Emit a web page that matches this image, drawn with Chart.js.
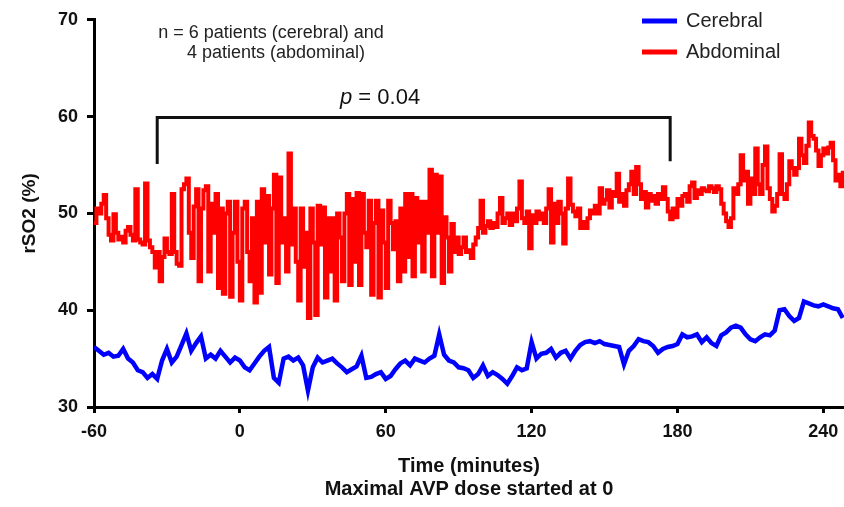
<!DOCTYPE html>
<html>
<head>
<meta charset="utf-8">
<script src="https://cdn.jsdelivr.net/npm/chart.js@4.4.0/dist/chart.umd.min.js"></script>
<style>
  html, body { margin: 0; padding: 0; background: #fff; }
  #wrap { width: 844px; height: 507px; }
</style>
</head>
<body>
<div id="wrap"><canvas id="rso2Chart" width="844" height="507"></canvas></div>
<script>
// both series start at -60 min; cerebral sampled every 2 min, abdominal every minute
const startMin = -60;
const cerebralStep = 2;
const abdominalStep = 1;

const cerebral = [
  36.2, 35.8, 35.4, 35.6, 35.2, 35.3, 36.0, 35.0, 34.6, 33.8,
  33.6, 33.0, 33.4, 32.9, 34.8, 36.0, 34.6, 35.2, 36.4, 37.6,
  35.8, 36.6, 37.3, 35.0, 35.4, 35.0, 35.8, 35.2, 34.6, 35.1,
  34.8, 34.1, 33.8, 34.5, 35.2, 35.8, 36.2, 33.0, 32.5, 35.0,
  35.2, 34.8, 35.1, 34.3, 31.7, 34.1, 35.1, 34.6, 34.8, 35.0,
  34.5, 34.1, 33.6, 33.9, 34.2, 35.3, 33.0, 33.1, 33.4, 33.6,
  32.9, 33.2, 33.9, 34.5, 34.8, 34.3, 35.0, 34.8, 34.6, 35.0,
  35.3, 37.5, 35.4, 34.8, 34.6, 34.1, 34.0, 33.8, 33.0, 33.4,
  34.3, 33.2, 33.6, 33.3, 32.9, 32.4, 33.2, 34.1, 33.8, 34.0,
  36.7, 35.0, 35.5, 35.6, 36.0, 35.1, 35.6, 35.8, 35.0, 35.8,
  36.4, 36.7, 36.8, 36.6, 36.8, 36.5, 36.4, 36.3, 36.2, 34.4,
  35.8, 36.3, 37.0, 36.8, 36.7, 36.3, 35.6, 36.0, 36.2, 36.3,
  36.5, 37.5, 37.2, 37.3, 37.5, 36.7, 37.2, 36.6, 36.3, 37.4,
  37.7, 38.2, 38.4, 38.2, 37.5, 37.0, 36.8, 37.2, 37.5, 37.4,
  37.9, 40.0, 40.1, 39.4, 38.9, 39.2, 40.9, 40.7, 40.5, 40.4,
  40.6, 40.4, 40.2, 40.1, 39.2
];

const abdominal = [
  49.0, 50.5, 50.0, 51.0, 51.9, 49.5, 47.8, 47.2, 49.9, 48.0,   // -60
  47.3, 47.6, 47.0, 48.2, 48.6, 47.8, 47.2, 52.5, 47.3, 47.0,   // -50
  46.8, 53.1, 47.2, 46.5, 46.0, 44.4, 46.0, 43.0, 45.5, 47.4,   // -40
  46.0, 45.8, 52.0, 46.0, 44.8, 44.6, 52.5, 53.0, 53.6, 48.0,   // -30
  45.4, 50.7, 52.5, 43.0, 50.5, 52.4, 52.8, 44.0, 51.0, 48.0,   // -20
  52.0, 42.3, 50.5, 41.7, 50.0, 51.2, 41.4, 48.0, 51.2, 45.0,   // -10
  41.0, 50.5, 51.2, 46.0, 43.0, 49.5, 40.8, 51.2, 41.8, 52.5,   // 0
  47.0, 51.8, 43.7, 50.5, 54.0, 42.8, 53.7, 47.0, 49.5, 44.0,   // 10
  56.2, 46.8, 50.5, 45.0, 41.0, 50.5, 44.5, 48.0, 39.2, 50.5,   // 20
  47.0, 39.5, 50.8, 46.8, 50.6, 41.3, 49.5, 44.0, 49.5, 41.0,   // 30
  50.0, 47.5, 43.0, 50.0, 52.0, 42.6, 51.5, 45.0, 52.1, 42.6,   // 40
  52.0, 48.0, 46.5, 51.3, 41.6, 49.0, 51.3, 41.3, 50.3, 47.0,   // 50
  42.3, 51.3, 49.0, 46.3, 49.2, 43.0, 50.5, 44.0, 52.0, 45.5,   // 60
  52.0, 43.5, 51.6, 47.0, 51.2, 44.0, 51.2, 48.0, 54.5, 43.5,   // 70
  54.0, 48.0, 53.8, 42.8, 49.6, 47.5, 44.0, 48.9, 46.0, 47.5,   // 80
  45.8, 46.5, 47.5, 46.0, 46.2, 45.4, 46.8, 47.5, 48.5, 51.3,   // 90
  48.0, 48.7, 49.2, 48.5, 49.0, 48.6, 50.0, 51.6, 49.0, 49.5,   // 100
  50.0, 48.8, 50.0, 49.2, 50.5, 53.3, 49.5, 49.0, 50.2, 46.4,   // 110
  49.8, 49.0, 50.2, 49.4, 50.0, 49.0, 50.5, 52.5, 47.0, 51.0,   // 120
  49.0, 51.2, 50.0, 46.9, 50.5, 53.6, 50.9, 50.2, 49.7, 50.5,   // 130
  48.5, 49.1, 48.5, 49.5, 50.3, 50.0, 50.8, 50.0, 52.6, 51.0,   // 140
  51.4, 52.4, 50.6, 52.2, 51.8, 54.1, 51.2, 52.0, 50.8, 52.4,   // 150
  53.0, 54.3, 52.0, 54.8, 53.0, 51.5, 52.2, 50.6, 52.0, 51.3,   // 160
  51.8, 51.0, 52.0, 51.5, 52.7, 51.5, 50.2, 49.4, 50.5, 49.6,   // 170
  51.5, 50.8, 51.8, 52.0, 51.2, 52.8, 53.2, 51.6, 52.4, 52.0,   // 180
  52.6, 52.4, 52.3, 52.8, 52.6, 52.2, 52.8, 52.5, 51.0, 50.0,   // 190
  49.2, 48.6, 49.5, 52.6, 52.0, 53.0, 56.0, 53.4, 54.3, 51.0,   // 200
  53.6, 52.0, 56.7, 53.0, 52.0, 55.0, 56.9, 52.6, 51.5, 50.2,   // 210
  50.8, 52.0, 56.1, 52.0, 51.5, 53.0, 55.4, 54.7, 54.0, 54.7,   // 220
  57.7, 56.0, 55.2, 57.0, 59.4, 58.0, 57.7, 56.5, 54.9, 56.0,   // 230
  56.7, 56.2, 56.8, 57.3, 55.5, 53.4, 54.0, 52.8, 54.4          // 240
];

const xTicks = [-60, 0, 60, 120, 180, 240];
const yTicks = [30, 40, 50, 60, 70];

// bracket + p value annotation (minutes / rSO2 units)
const bracketFrom = -34;
const bracketTo = 177;
const bracketTop = 59.9;
const bracketLeftEnd = 55.1;
const bracketRightEnd = 55.4;

const FONT = "'Liberation Sans', Arial, Helvetica, sans-serif";

function toPoints(values, step) {
    return values.map((v, i) => ({ x: startMin + i * step, y: v }));
}

// Legend, patient counts and the p-value bracket
const extrasPlugin = {
    id: 'extras',
    afterDraw(chart) {
        const c = chart.ctx;
        const xs = chart.scales.x;
        const ys = chart.scales.y;
        c.save();

        // bracket
        const x1 = xs.getPixelForValue(bracketFrom);
        const x2 = xs.getPixelForValue(bracketTo);
        const yt = ys.getPixelForValue(bracketTop);
        c.strokeStyle = '#111';
        c.lineWidth = 3;
        c.beginPath();
        c.moveTo(x1, ys.getPixelForValue(bracketLeftEnd));
        c.lineTo(x1, yt);
        c.lineTo(x2, yt);
        c.lineTo(x2, ys.getPixelForValue(bracketRightEnd));
        c.stroke();

        // p = 0.04
        c.fillStyle = '#111';
        c.textBaseline = 'middle';
        c.textAlign = 'left';
        c.font = 'italic 22px ' + FONT;
        c.fillText('p', 340, 98);
        const pw = c.measureText('p').width;
        c.font = '22px ' + FONT;
        c.fillText(' = 0.04', 340 + pw, 98);

        // patient counts
        c.textAlign = 'center';
        c.font = '18px ' + FONT;
        c.fillStyle = '#222';
        c.fillText('n = 6 patients (cerebral) and', 271, 33);
        c.fillText('4 patients (abdominal)', 276, 53);

        // legend
        c.textAlign = 'left';
        c.font = '20px ' + FONT;
        chart.data.datasets.forEach((ds, i) => {
            const y = 21 + i * 31;
            c.strokeStyle = ds.borderColor;
            c.lineWidth = 5;
            c.beginPath();
            c.moveTo(642, y);
            c.lineTo(677, y);
            c.stroke();
            c.fillStyle = '#222';
            c.fillText(ds.label, 686, y);
        });
        c.restore();
    }
};

const ctx = document.getElementById('rso2Chart').getContext('2d');
const rso2Chart = new Chart(ctx, {
    type: 'line',
    data: {
        datasets: [{
            label: 'Cerebral',
            data: toPoints(cerebral, cerebralStep),
            borderColor: '#0000ff',
            borderWidth: 4.5,
            pointRadius: 0,
            tension: 0,
            fill: false
        }, {
            label: 'Abdominal',
            data: toPoints(abdominal, abdominalStep),
            borderColor: '#ff0000',
            borderWidth: 4,
            pointRadius: 0,
            stepped: true,
            fill: false
        }]
    },
    options: {
        responsive: false,
        animation: false,
        devicePixelRatio: 1,
        layout: { padding: { top: 17, right: 0, left: 0, bottom: 0 } },
        plugins: {
            legend: { display: false },
            tooltip: { enabled: false }
        },
        scales: {
            x: {
                type: 'linear',
                min: -60,
                max: 248.5,
                afterBuildTicks: s => { s.ticks = xTicks.map(v => ({ value: v })); },
                afterFit: s => { s.height = 100; s.paddingLeft = 0; s.paddingRight = 0; },
                border: { display: true, color: '#000', width: 3 },
                grid: { display: true, drawOnChartArea: false, drawTicks: true, tickLength: 6, color: '#000', lineWidth: 3 },
                ticks: {
                    color: '#111',
                    padding: 8,
                    font: { family: FONT, size: 18, weight: 'bold' },
                    maxRotation: 0
                },
                title: {
                    display: true,
                    text: ['Time (minutes)', 'Maximal AVP dose started at 0'],
                    color: '#111',
                    font: { family: FONT, size: 20, weight: 'bold', lineHeight: 1.15 },
                    padding: { top: 0, bottom: 6 }
                }
            },
            y: {
                min: 30,
                max: 70,
                afterBuildTicks: s => { s.ticks = yTicks.map(v => ({ value: v })); },
                afterFit: s => { s.width = 94; },
                border: { display: true, color: '#000', width: 3 },
                grid: { display: true, drawOnChartArea: false, drawTicks: true, tickLength: 7, color: '#000', lineWidth: 3 },
                ticks: {
                    color: '#111',
                    padding: 9,
                    font: { family: FONT, size: 18, weight: 'bold' }
                },
                title: {
                    display: true,
                    text: 'rSO2 (%)',
                    color: '#111',
                    font: { family: FONT, size: 19, weight: 'bold', lineHeight: 1.2 },
                    padding: { top: 18, bottom: 0 }
                }
            }
        }
    },
    plugins: [extrasPlugin]
});
</script>
</body>
</html>
